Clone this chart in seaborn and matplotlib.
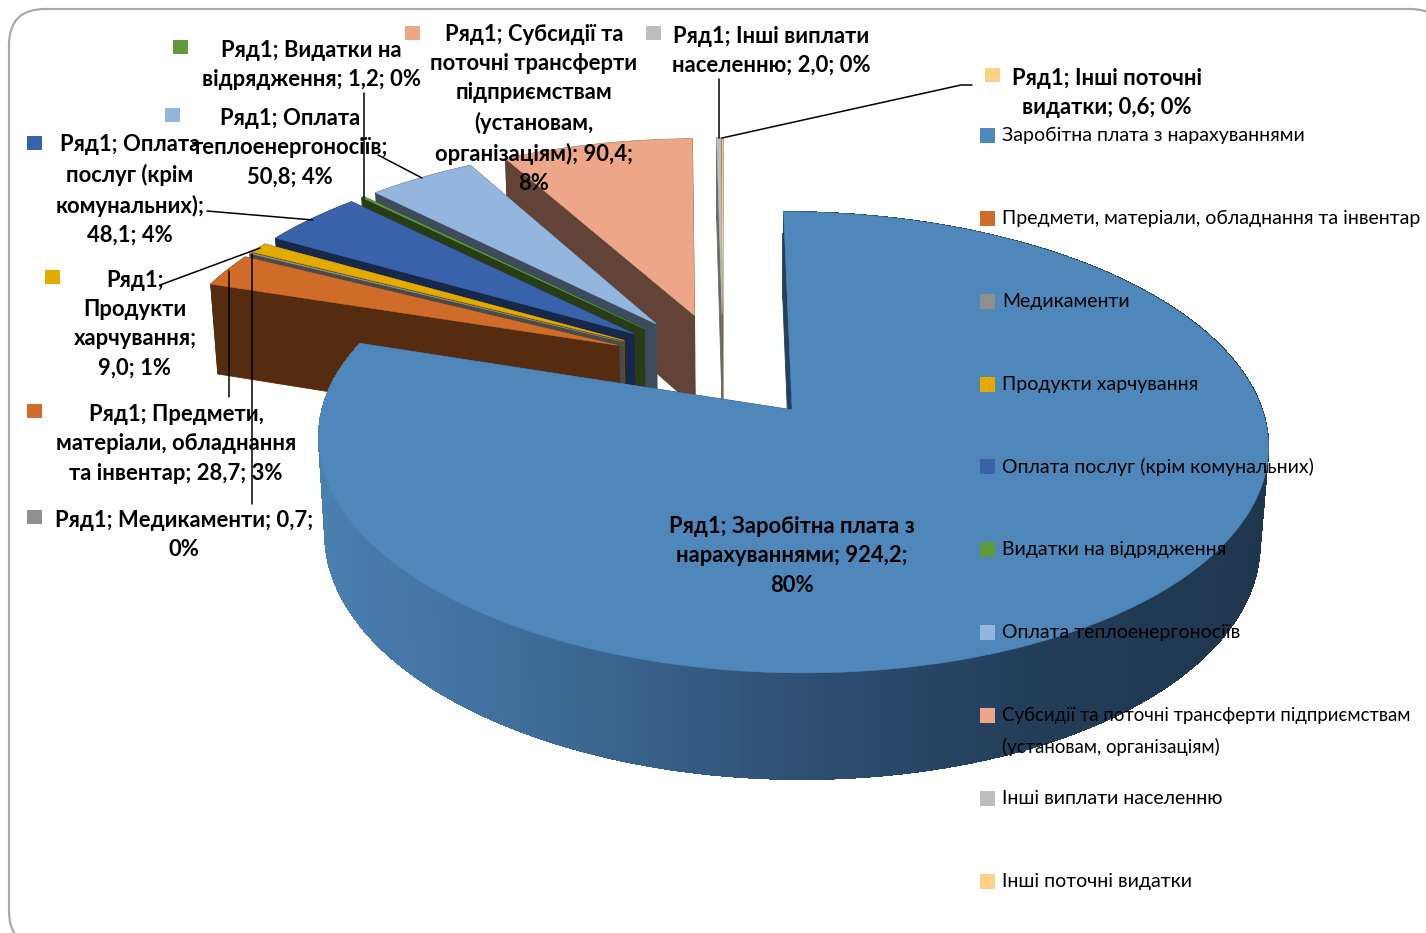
import numpy as np
import matplotlib
matplotlib.use('Agg')
import matplotlib.pyplot as plt
from matplotlib.patches import FancyBboxPatch, Rectangle
import seaborn as sns

# data
names = ['Заробітна плата з нарахуваннями', 'Предмети, матеріали, обладнання та інвентар',
         'Медикаменти', 'Продукти харчування', 'Оплата послуг (крім комунальних)',
         'Видатки на відрядження', 'Оплата теплоенергоносіїв',
         'Субсидії та поточні трансферти підприємствам\n(установам, організаціям)',
         'Інші виплати населенню', 'Інші поточні видатки']
values = [924.2, 28.7, 0.7, 9.0, 48.1, 1.2, 50.8, 90.4, 2.0, 0.6]
labels = ['Ряд1; Заробітна плата з\nнарахуваннями; 924,2;\n80%',
          'Ряд1; Предмети,\nматеріали, обладнання\nта інвентар; 28,7; 3%',
          'Ряд1; Медикаменти; 0,7;\n0%',
          'Ряд1;\nПродукти\nхарчування;\n9,0; 1%',
          'Ряд1; Оплата\nпослуг (крім\nкомунальних);\n48,1; 4%',
          'Ряд1; Видатки на\nвідрядження; 1,2; 0%',
          'Ряд1; Оплата\nтеплоенергоносіїв;\n50,8; 4%',
          'Ряд1; Субсидії та\nпоточні трансферти\nпідприємствам\n(установам,\nорганізаціям); 90,4;\n8%',
          'Ряд1; Інші виплати\nнаселенню; 2,0; 0%',
          'Ряд1; Інші поточні\nвидатки; 0,6; 0%']
label_pos = [(792, 556), (176, 444), (184, 535), (135, 324), (130, 190),
             (311, 65), (290, 148), (534, 109), (771, 51), (1107, 93)]
key_pos = [None, (34, 411), (34, 517), (52, 277), (34, 143),
           (180, 47), (172, 115), (412, 33), (653, 33), (992, 75)]
legend_y = [136, 219, 302, 385, 467, 550, 633, 716, 799, 882]

top_colors = ['#4f87bb', '#cf6c2a', '#8f8f8f', '#e3aa00', '#3a62aa',
              '#5f9a3c', '#94b5dd', '#eda688', '#bdbdbd', '#fdcf87']
side_colors = ['#24405c', '#552c10', '#4a4a4a', '#6e5200', '#17284a',
               '#283c18', '#3d4c5c', '#614437', '#6a6a6a', '#8a7040']
rim_stops = ['#4a7fb0', '#3d6a96', '#2f5074', '#233e5a', '#1f364e']

leaders = [[(364, 93), (364, 198)], [(378, 155), (422, 178)],
           [(207, 211), (313, 220)], [(160, 285), (260, 248)],
           [(229, 271), (229, 397)], [(252, 254), (252, 504)],
           [(718.5, 79), (718.5, 138)], [(972, 85), (961, 85), (722, 138)]]

# view of the tilted pie
CX, CY, SX, SY = 723, 365.5, 457, 213.6
TILT, DEPTH, SHRINK = 0.137, 95, 0.015
EXPLODE = 0.25


def project(x, y, z=0.0):
    w = 1 + TILT * y + SHRINK * z
    return CX + SX * x / w, CY - SY * y / w + DEPTH * z / w


sns.set_theme(style='white')
plt.rcParams['font.family'] = ['Lato', 'Open Sans', 'DejaVu Sans']

fig = plt.figure(figsize=(14.26, 9.33), dpi=100)
ax = fig.add_axes([0, 0, 1, 1])
ax.set_xlim(0, 1426)
ax.set_ylim(933, 0)
ax.axis('off')

ax.add_patch(FancyBboxPatch((9, 9), 1437, 938, boxstyle='round,pad=0,rounding_size=36',
                            fc='white', ec='#a8a8a8', lw=1.6, clip_on=True))

rim_palette = sns.blend_palette(rim_stops, 200)
edges = np.cumsum([0] + values) / sum(values) * 2 * np.pi


def draw_quad(xa, ya, xb, yb, color, zo, smooth=True):
    # wall between two points of the top surface
    ua, va = project(xa, ya)
    ub, vb = project(xb, yb)
    uc, vc = project(xb, yb, 1)
    ud, vd = project(xa, ya, 1)
    ax.fill([ua, ub, uc, ud], [va, vb, vc, vd], fc=color, ec=color, lw=0.6,
            zorder=zo, antialiased=smooth)


# back slices first, the big one last
for i in range(len(values) - 1, -1, -1):
    a0, a1 = edges[i], edges[i + 1]
    mid = (a0 + a1) / 2
    ox, oy = EXPLODE * np.sin(mid), EXPLODE * np.cos(mid)
    th = np.linspace(a0, a1, max(3, int(np.degrees(a1 - a0)) + 2))
    xs, ys = ox + np.sin(th), oy + np.cos(th)
    zo = 2 + (len(values) - i) * 2

    draw_quad(ox, oy, xs[-1], ys[-1], side_colors[i], zo)
    for j in range(len(th) - 1):
        if i == 0:
            u_mid = project(xs[j], ys[j])[0]
            k = int(np.clip((u_mid - 320) / (1268 - 320) * 199, 0, 199))
            draw_quad(xs[j], ys[j], xs[j + 1], ys[j + 1], rim_palette[k], zo, smooth=False)
        else:
            draw_quad(xs[j], ys[j], xs[j + 1], ys[j + 1], side_colors[i], zo)
    draw_quad(ox, oy, xs[0], ys[0], side_colors[i], zo)

    u, v = project(np.r_[ox, xs], np.r_[oy, ys])
    ax.fill(u, v, fc=top_colors[i], ec=top_colors[i], lw=0.4, zorder=zo + 1)

for pts in leaders:
    px, py = zip(*pts)
    ax.plot(px, py, color='black', lw=1.1, zorder=40)

for txt, (lx, ly) in zip(labels, label_pos):
    ax.text(lx, ly, txt, ha='center', va='center', fontsize=15.8, fontweight='bold',
            color='black', linespacing=1.48, zorder=50)

for kp, col in zip(key_pos, top_colors):
    if kp is not None:
        ax.add_patch(Rectangle((kp[0] - 7.5, kp[1] - 7), 15, 14, fc=col, ec='none', zorder=50))

for name, ly, col in zip(names, legend_y, top_colors):
    ax.add_patch(Rectangle((980, ly - 8), 15, 15, fc=col, ec='none', zorder=50))
    # the long two-line entry has to stay inside the picture
    size = 13.4 if '\n' in name else 14
    ax.text(1002, ly - 9, name, ha='left', va='top', fontsize=size, color='black',
            family=['Lato', 'DejaVu Sans'], linespacing=1.9, zorder=50)

fig.savefig('out.png', dpi=100, facecolor='white')
